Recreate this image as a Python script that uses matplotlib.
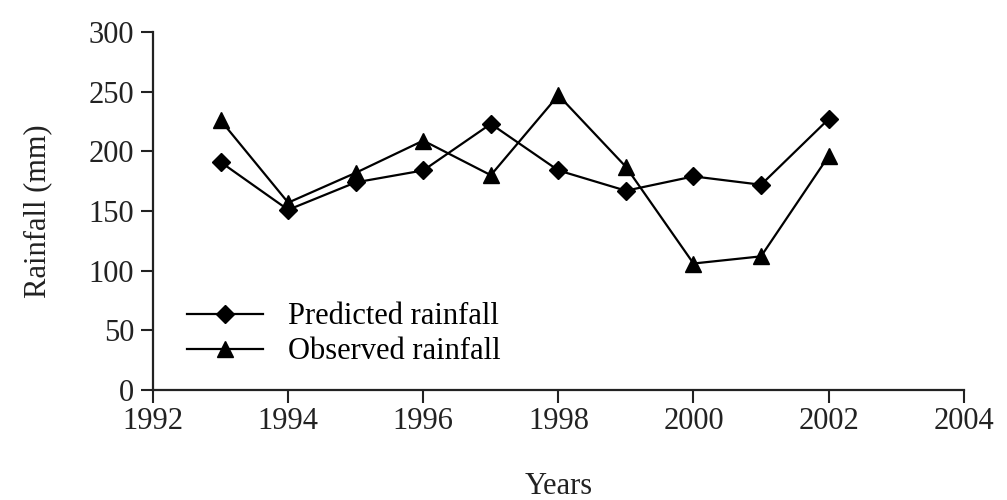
import matplotlib.pyplot as plt

years = [1993, 1994, 1995, 1996, 1997, 1998, 1999, 2000, 2001, 2002]
predicted = [191, 151, 174, 184, 223, 184, 167, 179, 172, 227]
observed = [226, 157, 182, 209, 180, 247, 187, 106, 112, 196]

plt.rcParams["font.family"] = ["Liberation Serif", "DejaVu Serif"]
FS = 22
INK = "#222222"

fig = plt.figure(figsize=(10.07, 5.0), dpi=100)
ax = fig.add_axes([0.152, 0.22, 0.805, 0.716])

ax.plot(years, predicted, color="black", linewidth=1.6, marker="D",
        markersize=9, label="Predicted rainfall")
ax.plot(years, observed, color="black", linewidth=1.6, marker="^",
        markersize=11, label="Observed rainfall")

ax.set_xlim(1992, 2004)
ax.set_ylim(0, 300)
ax.set_xticks(range(1992, 2005, 2))
ax.set_yticks(range(0, 301, 50))
ax.tick_params(direction="out", length=9, width=1.5, labelsize=FS,
               colors=INK, pad=3)
ax.tick_params(axis="y", pad=4.5)
ax.spines["top"].set_visible(False)
ax.spines["right"].set_visible(False)
for side in ("left", "bottom"):
    ax.spines[side].set_linewidth(1.6)
    ax.spines[side].set_color(INK)

ax.set_xlabel("Years", fontsize=FS, labelpad=26, color=INK)
ax.set_ylabel("Rainfall (mm)", fontsize=FS, labelpad=26, color=INK)

ax.legend(loc="upper left", bbox_to_anchor=(0.042, 0.245), frameon=False,
          fontsize=FS, handlelength=2.5, handletextpad=0.8, labelspacing=0.2,
          borderpad=0, borderaxespad=0)

fig.savefig("out.png", dpi=100)
